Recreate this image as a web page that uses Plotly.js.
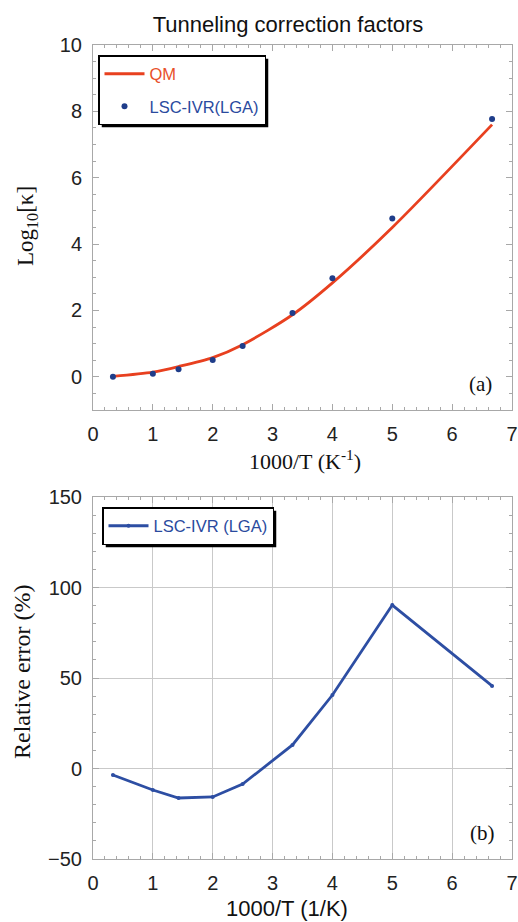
<!DOCTYPE html>
<html>
<head>
<meta charset="utf-8">
<script src="https://cdn.plot.ly/plotly-3.0.1.min.js"></script>
<style>html,body{margin:0;padding:0;background:#fff;}#plot{width:518px;height:922px;}</style>
</head>
<body>
<div id="plot"></div>
<script>
// ---- data ----
const invT   = [0.333, 1.0, 1.429, 2.0, 2.5, 3.333, 4.0, 5.0, 6.667];   // 1000/T (1/K)
const qmLog  = [0.016, 0.145, 0.31, 0.58, 0.97, 1.87, 2.83, 4.50, 7.60]; // QM log10(kappa)
const lscLog = [0.0, 0.09, 0.23, 0.51, 0.93, 1.92, 2.97, 4.77, 7.77];    // LSC-IVR(LGA) log10(kappa)
const relErr = [-3.6, -11.9, -16.3, -15.7, -8.6, 13.0, 40.6, 90.3, 45.6]; // relative error (%)
const seriesNames = ['QM', 'LSC-IVR(LGA)', 'LSC-IVR (LGA)'];

const SANS = 'Liberation Sans, Arial, sans-serif';
const SERIF = 'Liberation Serif, Times New Roman, serif';
const RED = '#e8401f', BLUE_PT = '#1f3d8a', BLUE_LN = '#2d4ea3';

const data = [
  {x: invT, y: qmLog, type: 'scatter', mode: 'lines', name: '<span style="color:#e8502a">' + seriesNames[0] + '</span>',
   line: {color: RED, width: 2.8, shape: 'spline', smoothing: 0.8}, xaxis: 'x', yaxis: 'y', legend: 'legend', legendgroup: 'a'},
  {x: invT, y: lscLog, type: 'scatter', mode: 'markers', name: '<span style="color:#2a4a9e">' + seriesNames[1] + '</span>',
   marker: {color: BLUE_PT, size: 6}, xaxis: 'x', yaxis: 'y', legend: 'legend', legendgroup: 'b'},
  {x: invT, y: relErr, type: 'scatter', mode: 'lines+markers', name: '<span style="color:#2a4a9e">' + seriesNames[2] + '</span>',
   line: {color: BLUE_LN, width: 2.8}, marker: {color: BLUE_LN, size: 4}, xaxis: 'x2', yaxis: 'y2', legend: 'legend2'}
];

const axBase = {
  showline: true, mirror: 'allticks', linecolor: '#a8a8a8', linewidth: 1,
  ticks: 'inside', ticklen: 6, tickcolor: '#a8a8a8', tickwidth: 1,
  tickfont: {family: SANS, size: 20, color: '#222'}, zeroline: false,
  ticklabelstandoff: 6
};
const L = 93, T = 45, W = 419, H = 814;
const px = v => (v - L) / W;
const py = v => (T + H - v) / H;

const layout = {
  width: 518, height: 922,
  margin: {l: L, r: 518 - L - W, t: T, b: 922 - T - H},
  paper_bgcolor: '#fff', plot_bgcolor: '#fff',
  showlegend: true,
  title: {text: 'Tunneling correction factors', font: {family: SANS, size: 22, color: '#111'},
          x: 288 / 518, xref: 'container', xanchor: 'center', y: 1 - 24 / 922, yref: 'container', yanchor: 'middle'},
  xaxis: Object.assign({}, axBase, {domain: [0, 1], anchor: 'y', range: [0, 7], dtick: 1, tick0: 0, showgrid: false,
          minor: {dtick: 0.2, ticks: 'inside', ticklen: 3, tickcolor: '#a8a8a8', showgrid: false}}),
  yaxis: Object.assign({}, axBase, {domain: [py(410), 1], anchor: 'x', range: [-1, 10], dtick: 2, tick0: 0, showgrid: false,
          minor: {dtick: 0.5, ticks: 'inside', ticklen: 3, tickcolor: '#a8a8a8', showgrid: false}}),
  xaxis2: Object.assign({}, axBase, {domain: [0, 1], anchor: 'y2', range: [0, 7], dtick: 1, tick0: 0, showgrid: true, gridcolor: '#c9c9c9',
          minor: {dtick: 0.2, ticks: 'inside', ticklen: 3, tickcolor: '#a8a8a8', showgrid: false}}),
  yaxis2: Object.assign({}, axBase, {domain: [0, py(497)], anchor: 'x2', range: [-50, 150], dtick: 50, tick0: 0, showgrid: true, gridcolor: '#c9c9c9',
          minor: {dtick: 10, ticks: 'inside', ticklen: 3, tickcolor: '#a8a8a8', showgrid: false}}),
  legend: {x: px(98), y: py(55), xanchor: 'left', yanchor: 'top', bgcolor: '#fff', bordercolor: '#000', borderwidth: 1.5,
           font: {family: SANS, size: 16.5}, traceorder: 'grouped', tracegroupgap: 8, itemwidth: 40},
  legend2: {x: px(102), y: py(507), xanchor: 'left', yanchor: 'top', bgcolor: '#fff', bordercolor: '#000', borderwidth: 1.5,
           font: {family: SANS, size: 16.5}, itemwidth: 40},
  annotations: [
    {text: '1000/T (K<sup>-1</sup>)', x: px(305), y: py(460), xref: 'paper', yref: 'paper', showarrow: false,
     xanchor: 'center', yanchor: 'middle', font: {family: SERIF, size: 22, color: '#111'}},
    {text: '1000/T (1/K)', x: px(287), y: py(908), xref: 'paper', yref: 'paper', showarrow: false,
     xanchor: 'center', yanchor: 'middle', font: {family: SANS, size: 22, color: '#111'}},
    {text: 'Log<sub>10</sub>[κ]', x: px(27), y: py(226), xref: 'paper', yref: 'paper', showarrow: false, textangle: -90,
     xanchor: 'center', yanchor: 'middle', font: {family: SERIF, size: 23, color: '#111'}},
    {text: 'Relative error (%)', x: px(22), y: py(672), xref: 'paper', yref: 'paper', showarrow: false, textangle: -90,
     xanchor: 'center', yanchor: 'middle', font: {family: SERIF, size: 24, color: '#111'}},
    {text: '(a)', x: px(480), y: py(384), xref: 'paper', yref: 'paper', showarrow: false,
     xanchor: 'center', yanchor: 'middle', font: {family: SERIF, size: 21, color: '#111'}},
    {text: '(b)', x: px(482), y: py(833), xref: 'paper', yref: 'paper', showarrow: false,
     xanchor: 'center', yanchor: 'middle', font: {family: SERIF, size: 21, color: '#111'}}
  ]
};

Plotly.newPlot('plot', data, layout, {displayModeBar: false, staticPlot: true}).then(gd => {
  const root = gd.getBoundingClientRect();
  const shapes = [];
  ['legend', 'legend2'].forEach(id => {
    const g = gd.querySelector('g.' + id);
    if (!g) return;
    const bg = g.querySelector('rect.bg');
    if (!bg) return;
    const r = bg.getBoundingClientRect();
    const l = r.left - root.left, t = r.top - root.top, rr = r.right - root.left, b = r.bottom - root.top;
    const s = 3;
    shapes.push({type: 'rect', xref: 'paper', yref: 'paper', layer: 'above',
      x0: px(l + s), x1: px(rr + s), y0: py(b + s), y1: py(t + s), fillcolor: '#000', line: {width: 0}});
  });
  if (shapes.length) Plotly.relayout(gd, {shapes: shapes});
});
</script>
</body>
</html>
